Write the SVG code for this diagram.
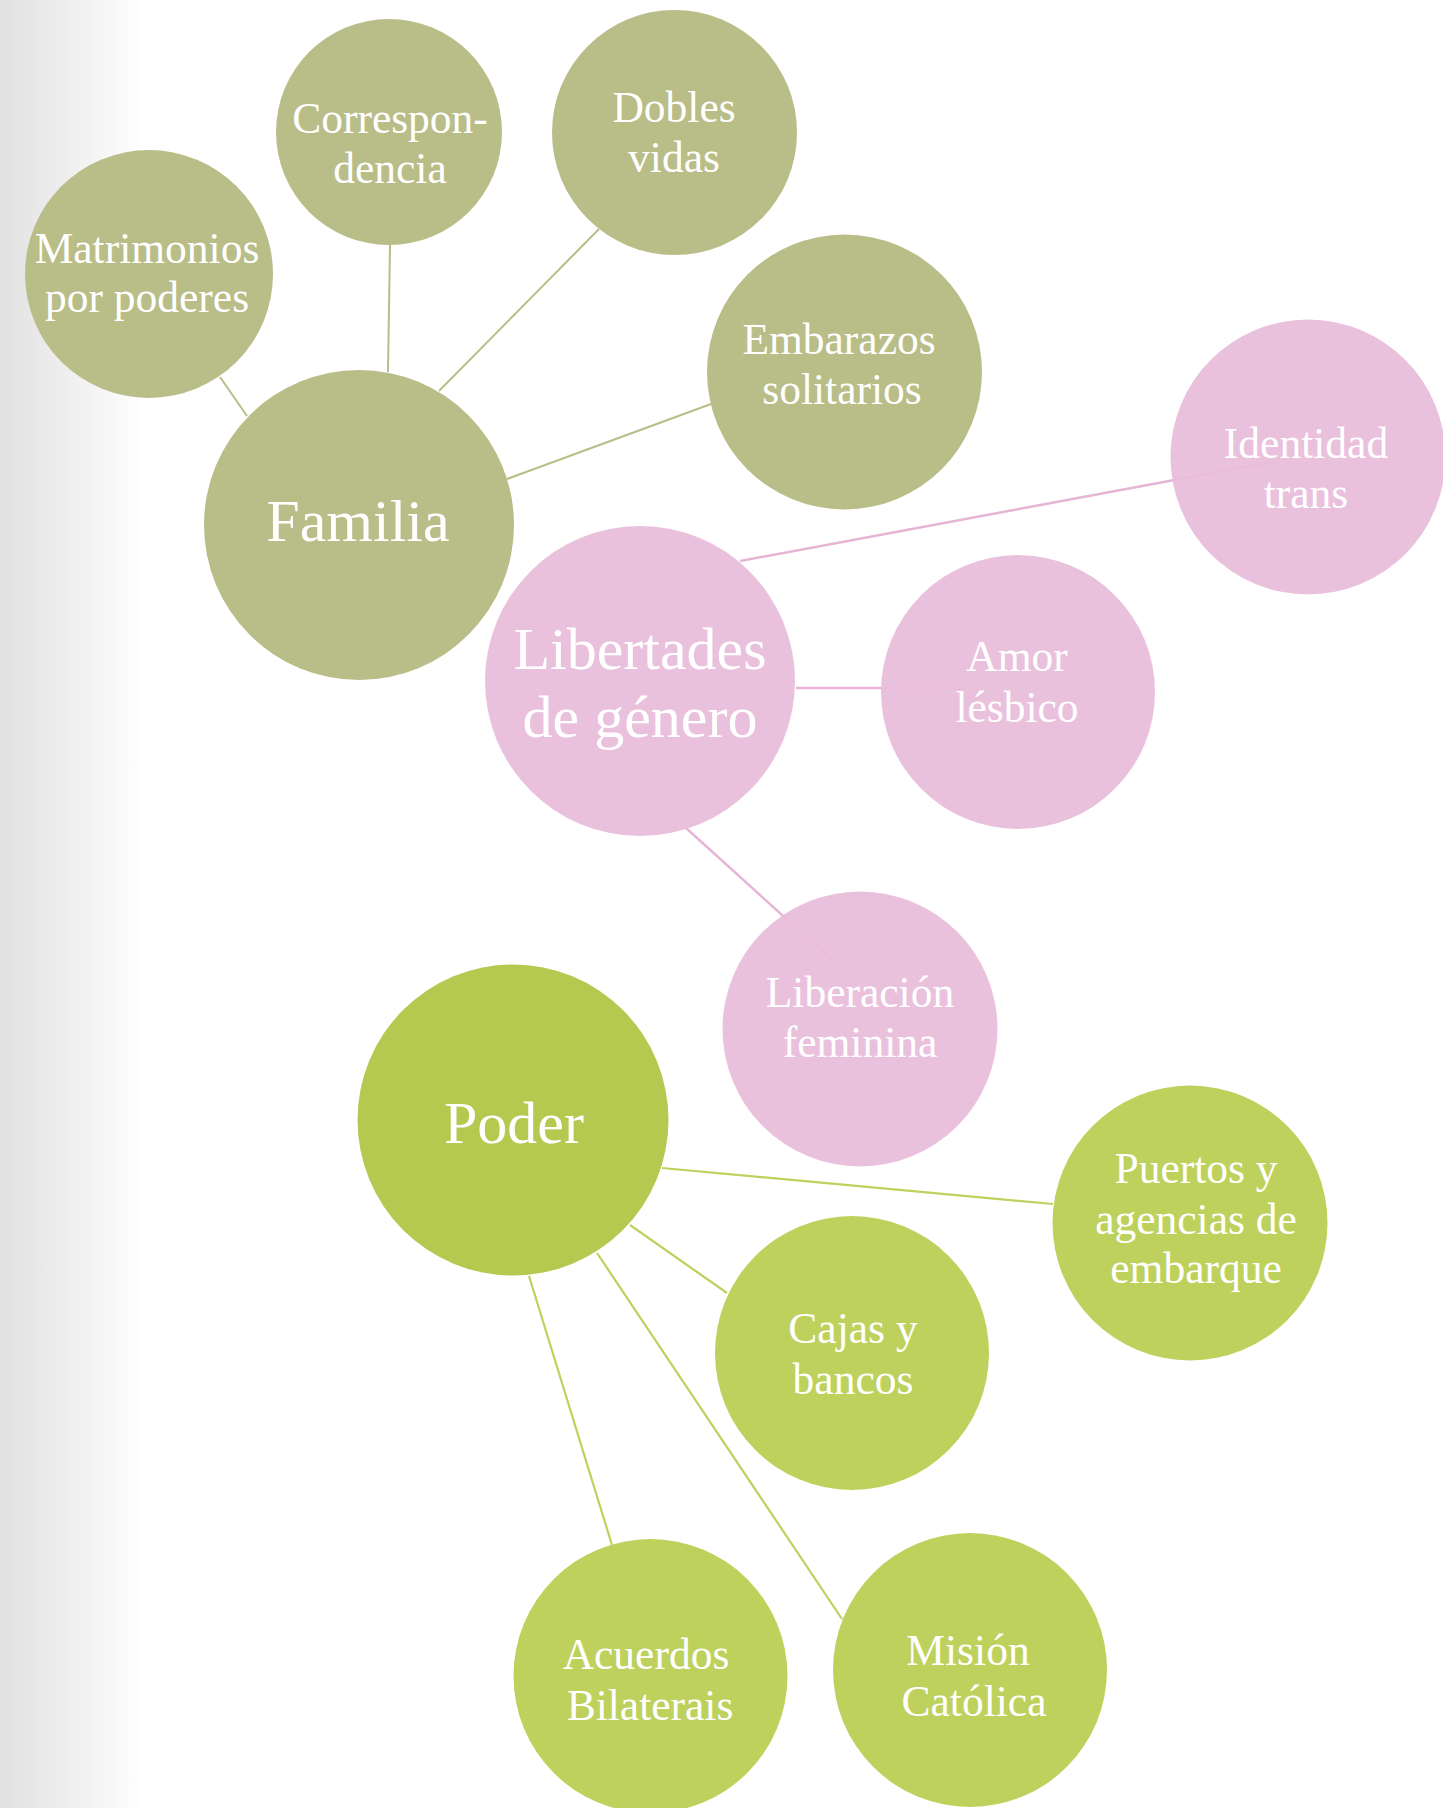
<svg xmlns="http://www.w3.org/2000/svg" width="1443" height="1808" viewBox="0 0 1443 1808">
<defs>
<linearGradient id="bg" x1="0" y1="0" x2="145" y2="0" gradientUnits="userSpaceOnUse">
<stop offset="0" stop-color="#e1e1e1"/>
<stop offset="1" stop-color="#ffffff"/>
</linearGradient>
<style>
.olive{fill:#b9bd87}
.pink{fill:#e8bcda;fill-opacity:0.93}
.poder{fill:#b5c84f}
.lime{fill:#bed15d}
.lo{stroke:#b9bd87;stroke-width:2;fill:none}
.lp{stroke:#e6b5d6;stroke-width:2.5;fill:none}
.lg{stroke:#bed15d;stroke-width:2.2;fill:none}
text{font-family:"Liberation Serif","Times New Roman",serif;fill:#ffffff;text-anchor:middle}
.s{font-size:43.5px}
.b{font-size:60px}
</style>
</defs>
<rect x="0" y="0" width="1443" height="1808" fill="#ffffff"/>
<rect x="0" y="0" width="145" height="1808" fill="url(#bg)"/>
<g id="connectors">
<line class="lo" x1="220" y1="377" x2="247" y2="416"/>
<line class="lo" x1="390" y1="245" x2="388" y2="372"/>
<line class="lo" x1="599" y1="229" x2="439" y2="391"/>
<line class="lo" x1="711" y1="404" x2="507" y2="479"/>
<line class="lp" x1="740" y1="561" x2="1271" y2="462"/>
<line class="lp" x1="796" y1="688" x2="964" y2="688"/>
<line class="lp" x1="686" y1="828" x2="835" y2="963"/>
<line class="lg" x1="662" y1="1168" x2="1053" y2="1204"/>
<line class="lg" x1="630" y1="1225" x2="727" y2="1293"/>
<line class="lg" x1="597" y1="1253" x2="842" y2="1619"/>
<line class="lg" x1="529" y1="1276" x2="612" y2="1545"/>
</g>
<g id="familia"><circle class="olive" cx="359" cy="525" r="155"/><text class="b" x="358" y="541">Familia</text></g>
<g id="matrimonios"><circle class="olive" cx="149" cy="274" r="124"/><text class="s" x="147" y="263">Matrimonios</text><text class="s" x="147" y="312">por poderes</text></g>
<g id="correspondencia"><circle class="olive" cx="389" cy="132" r="113"/><text class="s" x="390" y="133">Correspon-</text><text class="s" x="390" y="183">dencia</text></g>
<g id="dobles"><circle class="olive" cx="674.5" cy="132.5" r="122.5"/><text class="s" x="674" y="122">Dobles</text><text class="s" x="674" y="172">vidas</text></g>
<g id="embarazos"><circle class="olive" cx="844.5" cy="372" r="137.5"/><text class="s" x="839" y="354">Embarazos</text><text class="s" x="842" y="404">solitarios</text></g>
<g id="libertades"><circle class="pink" cx="640" cy="681" r="155"/><text class="b" x="640" y="669">Libertades</text><text class="b" x="640" y="737">de género</text></g>
<g id="identidad"><circle class="pink" cx="1308" cy="457" r="137.5"/><text class="s" x="1306" y="458">Identidad</text><text class="s" x="1306" y="508">trans</text></g>
<g id="amor"><circle class="pink" cx="1018" cy="692" r="137"/><text class="s" x="1017" y="671">Amor</text><text class="s" x="1017" y="722">lésbico</text></g>
<g id="liberacion"><circle class="pink" cx="860" cy="1029" r="137.5"/><text class="s" x="860" y="1007">Liberación</text><text class="s" x="860" y="1057">feminina</text></g>
<g id="poder"><circle class="poder" cx="513" cy="1120" r="155.5"/><text class="b" x="514" y="1143">Poder</text></g>
<g id="puertos"><circle class="lime" cx="1190" cy="1223" r="137.5"/><text class="s" x="1196" y="1183">Puertos y</text><text class="s" x="1196" y="1234">agencias de</text><text class="s" x="1196" y="1283">embarque</text></g>
<g id="cajas"><circle class="lime" cx="852" cy="1353" r="137"/><text class="s" x="853" y="1343">Cajas y</text><text class="s" x="853" y="1394">bancos</text></g>
<g id="acuerdos"><circle class="lime" cx="650.5" cy="1676" r="137"/><text class="s" x="646" y="1669">Acuerdos</text><text class="s" x="650" y="1720">Bilaterais</text></g>
<g id="mision"><circle class="lime" cx="970" cy="1670" r="137"/><text class="s" x="968" y="1665">Misión</text><text class="s" x="974" y="1716">Católica</text></g>
</svg>
